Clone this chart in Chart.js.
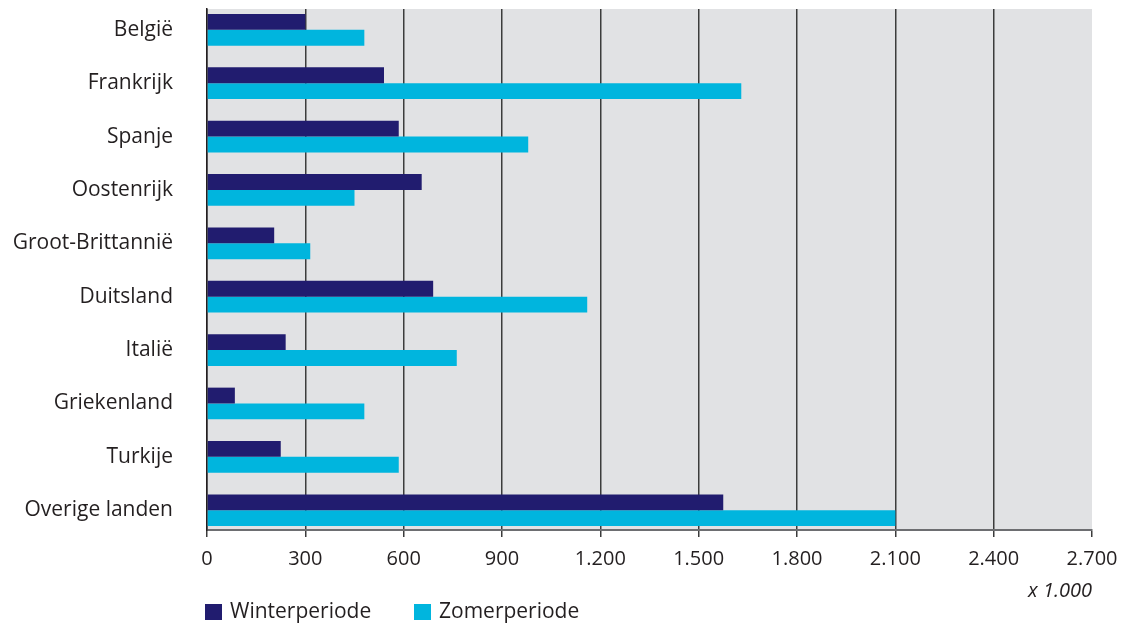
<!DOCTYPE html>
<html>
<head>
<meta charset="utf-8">
<script src="https://cdn.jsdelivr.net/npm/chart.js@4"></script>
<style>
  body { margin: 0; background: #fff; }
  #wrap { width: 1125px; height: 626px; }
</style>
</head>
<body>
<div id="wrap"><canvas id="chart"></canvas></div>
<script>
var landen = ['België', 'Frankrijk', 'Spanje', 'Oostenrijk', 'Groot-Brittannië',
    'Duitsland', 'Italië', 'Griekenland', 'Turkije', 'Overige landen'];
var winter = [300, 540, 585, 655, 205, 690, 240, 85, 225, 1575];
var zomer = [480, 1630, 980, 450, 315, 1160, 762, 480, 585, 2100];
var xTicks = [0, 300, 600, 900, 1200, 1500, 1800, 2100, 2400, 2700];

var fontName = "'Open Sans', sans-serif";

function dots(v) {
    return String(v).replace(/\B(?=(\d{3})+(?!\d))/g, '.');
}

// landen als index op een lineaire as, zodat de marge boven/onder klopt
function points(values) {
    return values.map(function (v, i) { return { x: v, y: i }; });
}

var plotBg = {
    id: 'plotBg',
    beforeDraw: function (chart) {
        var a = chart.chartArea, ctx = chart.ctx;
        ctx.save();
        ctx.fillStyle = '#e1e2e4';
        ctx.fillRect(a.left, a.top, a.right - a.left, a.bottom - a.top);
        ctx.restore();
    }
};

var extras = {
    id: 'extras',
    afterDraw: function (chart) {
        var a = chart.chartArea, ctx = chart.ctx;
        ctx.save();
        ctx.fillStyle = '#231f20';
        ctx.font = 'italic 20px ' + fontName;
        ctx.textAlign = 'right';
        ctx.textBaseline = 'middle';
        ctx.fillText('x 1.000', a.right, 591);

        var items = [
            { text: 'Winterperiode', color: '#211c6f', x: a.left - 2 },
            { text: 'Zomerperiode', color: '#00b5de', x: a.left + 207 }
        ];
        ctx.font = '21px ' + fontName;
        ctx.textAlign = 'left';
        items.forEach(function (it) {
            ctx.fillStyle = it.color;
            ctx.fillRect(it.x, 604, 17, 16);
            ctx.fillStyle = '#231f20';
            ctx.fillText(it.text, it.x + 25, 612);
        });
        ctx.restore();
    }
};

new Chart(document.getElementById('chart'), {
    type: 'bar',
    data: {
        datasets: [
            { label: 'Winterperiode', data: points(winter), backgroundColor: '#211c6f' },
            { label: 'Zomerperiode', data: points(zomer), backgroundColor: '#00b5de' }
        ]
    },
    options: {
        indexAxis: 'y',
        responsive: true,
        maintainAspectRatio: false,
        animation: false,
        layout: { padding: { top: 9, right: 33, bottom: 0, left: 0 } },
        datasets: { bar: { barPercentage: 1, categoryPercentage: 0.594 } },
        plugins: {
            legend: { display: false },
            tooltip: { enabled: false }
        },
        scales: {
            x: {
                min: 0,
                max: 2700,
                afterBuildTicks: function (scale) {
                    scale.ticks = xTicks.map(function (v) { return { value: v }; });
                },
                afterFit: function (scale) {
                    scale.height = 96;
                    scale.paddingLeft = 0;
                    scale.paddingRight = 0;
                },
                grid: {
                    color: function (c) {
                        return c.tick && c.tick.value === 2700 ? 'rgba(0,0,0,0)' : '#3c3c3c';
                    },
                    lineWidth: 1.5,
                    tickColor: '#3c3c3c',
                    tickLength: 7
                },
                border: { display: true, color: '#6d6e71', width: 2 },
                ticks: {
                    color: '#231f20',
                    font: { family: fontName, size: 20 },
                    padding: 10,
                    maxRotation: 0,
                    callback: function (v) { return dots(v); }
                }
            },
            y: {
                type: 'linear',
                reverse: true,
                offset: false,
                min: -0.39,
                max: 9.37,
                afterBuildTicks: function (scale) {
                    scale.ticks = landen.map(function (n, i) { return { value: i }; });
                },
                afterFit: function (scale) {
                    scale.width = 207;
                    scale.paddingTop = 0;
                    scale.paddingBottom = 0;
                },
                grid: { display: false, drawTicks: false },
                border: { display: true, color: '#231f20', width: 1.5 },
                ticks: {
                    color: '#231f20',
                    font: { family: fontName, size: 21 },
                    padding: 34,
                    autoSkip: false,
                    callback: function (v) { return landen[v]; }
                }
            }
        }
    },
    plugins: [plotBg, extras]
});
</script>
</body>
</html>
